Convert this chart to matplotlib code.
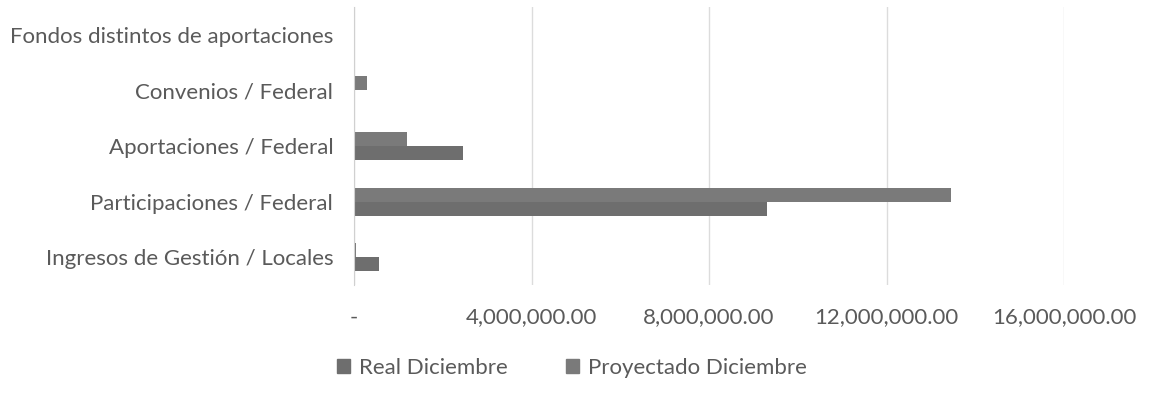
import numpy as np
import matplotlib.pyplot as plt
from matplotlib.patches import Patch

plt.rcParams['font.family'] = ['Lato', 'DejaVu Sans']

categorias = ['Ingresos de Gestión / Locales', 'Participaciones / Federal',
              'Aportaciones / Federal', 'Convenios / Federal',
              'Fondos distintos de aportaciones']
real = [560000, 9300000, 2450000, 0, 0]
proyectado = [50000, 13450000, 1200000, 300000, 0]
ticks = [0, 4000000, 8000000, 12000000, 16000000]
tick_labels = ['-', '4,000,000.00', '8,000,000.00', '12,000,000.00', '16,000,000.00']

gris_texto = '#5a5a5a'
fs = 16
fig = plt.figure(figsize=(11.6, 4.05), dpi=100)
ax = fig.add_axes([354/1160, 1-285/405, (1064-354)/1160, 278/405])

y = np.arange(len(categorias))
h = 0.25
ax.barh(y - h/2, real, height=h, color='#6e6e6e', label='Real Diciembre')
ax.barh(y + h/2, proyectado, height=h, color='#7a7a7a', label='Proyectado Diciembre')

ax.set_xlim(0, 16000000)
ax.set_ylim(-0.5, len(categorias) - 0.5)
ax.set_xticks(ticks)
ax.set_xticklabels(tick_labels, fontsize=fs, color=gris_texto)
ax.set_yticks(y)
ax.set_yticklabels(categorias, fontsize=fs, color=gris_texto)
ax.tick_params(axis='both', length=0)
ax.tick_params(axis='x', pad=16)
ax.tick_params(axis='y', pad=15)
ax.grid(axis='x', color='#dcdcdc', linewidth=1)
ax.set_axisbelow(True)
for s in ['top', 'right', 'bottom']:
    ax.spines[s].set_visible(False)
ax.spines['left'].set_color('#d0d0d0')

handles = [Patch(color='#6e6e6e'), Patch(color='#7a7a7a')]
fig.legend(handles, ['Real Diciembre', 'Proyectado Diciembre'], loc='center',
           bbox_to_anchor=(572/1160, 1-368/405), ncol=2, frameon=False,
           fontsize=fs, labelcolor=gris_texto, handlelength=0.6,
           handleheight=0.6, handletextpad=0.4, columnspacing=2.6)

fig.savefig('out.png', dpi=100)
